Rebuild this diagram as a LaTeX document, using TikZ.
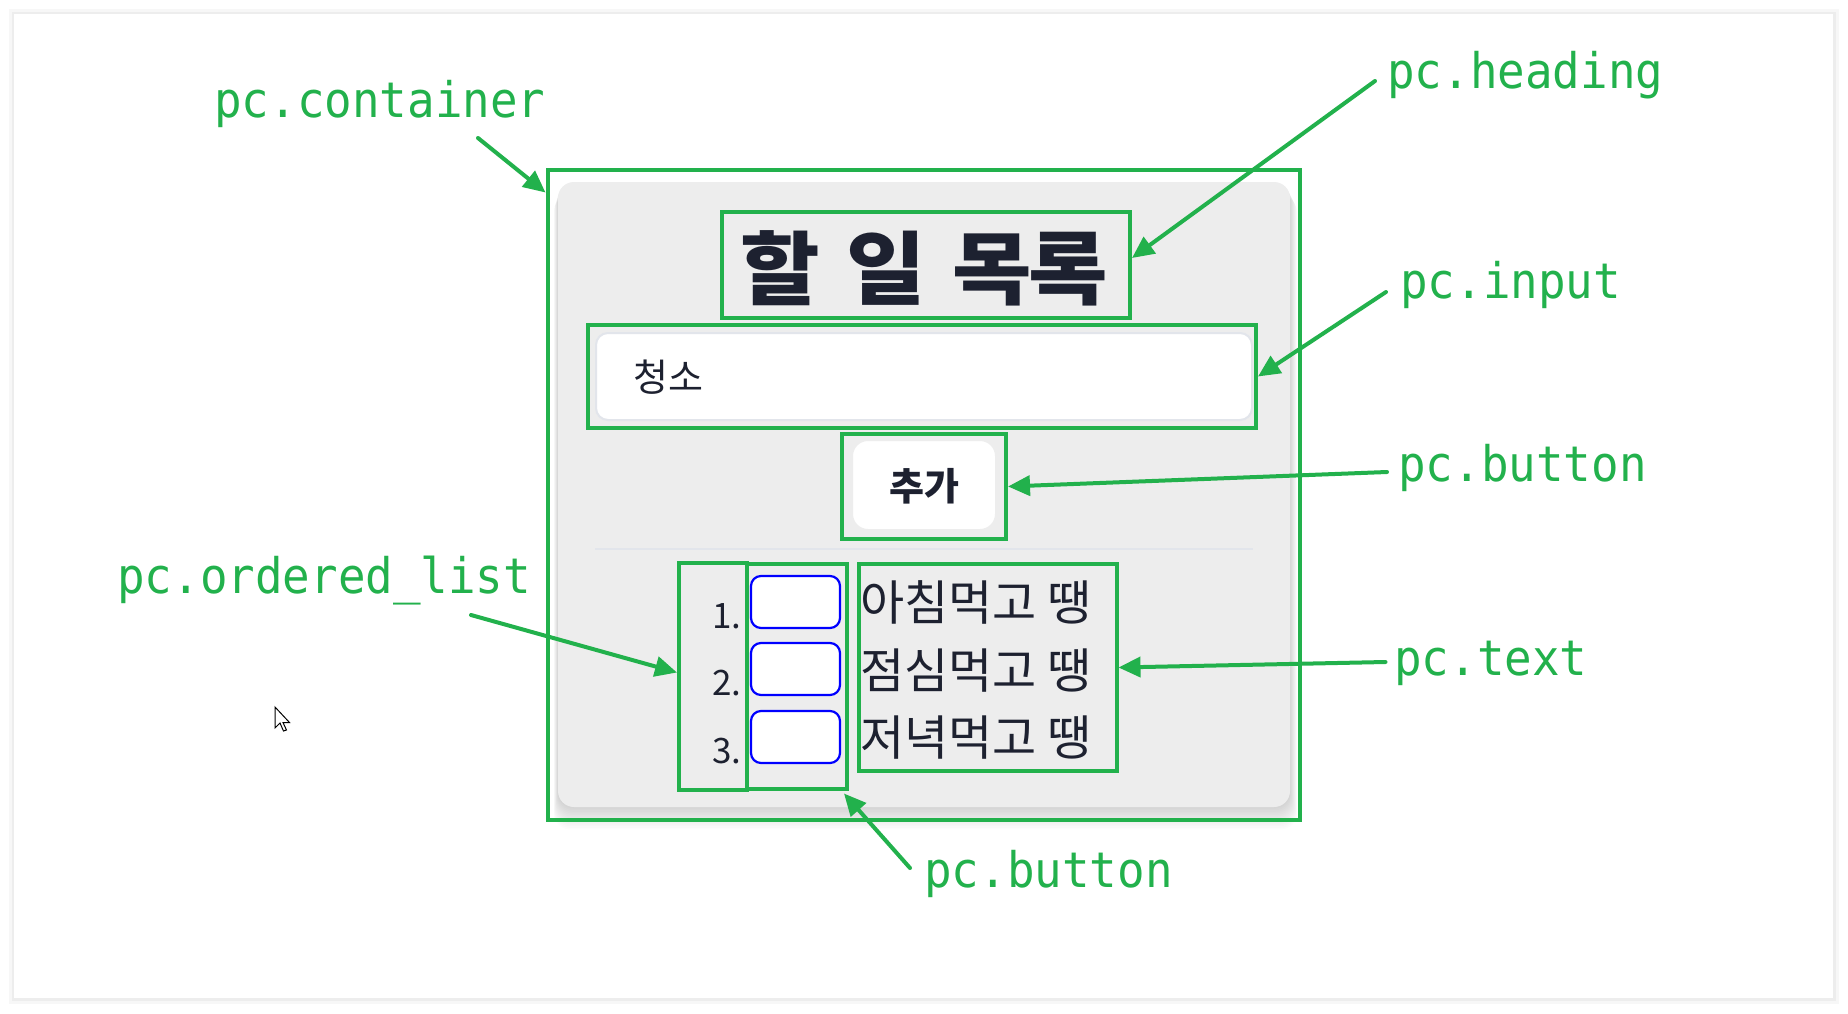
\documentclass[tikz,border=0pt]{standalone}
\usepackage{fontspec}
\usetikzlibrary{arrows.meta,fit,calc}
\newfontfamily\kr{Noto Sans CJK KR}
\newfontfamily\krhead[FakeStretch=1.08,LetterSpace=-5,WordSpace=1.7]{Noto Sans CJK KR}
\newfontfamily\monof[FakeStretch=0.935]{DejaVu Sans Mono}
\definecolor{pcgreen}{RGB}{34,177,76}
\definecolor{panelgray}{RGB}{237,237,237}
\definecolor{hdcol}{RGB}{29,33,48}
\definecolor{lightborder}{RGB}{226,229,235}
\definecolor{cbblue}{RGB}{0,0,255}
\tikzset{
  gbox/.style={draw=pcgreen, line width=2pt, inner sep=0pt},
  arr/.style={draw=pcgreen, line width=2pt, line cap=round, -{Triangle[length=11pt,width=10pt]}},
  lbl/.style={text=pcgreen, font=\monof\fontsize{24.5}{28}\selectfont, inner sep=0pt, anchor=base west},
  cbox/.style={draw=cbblue, line width=1.1pt, fill=white, rounded corners=5pt},
  ktext/.style={text=hdcol, inner sep=0pt},
}
\begin{document}
\begin{tikzpicture}[x=0.5pt,y=-0.5pt]
\useasboundingbox (0,0) rectangle (1848,1013);
\fill[white] (0,0) rectangle (1848,1013);
% card with faint shadow
\fill[black!3] (9,9) rectangle (1839,1004);
\fill[black!7] (12,12) rectangle (1836,1001);
\fill[white] (14,14) rectangle (1833,998);
% panel shadow
\foreach \i in {1,...,14}{
  \fill[black, opacity=0.013, rounded corners=8pt] (558-0.3*\i,182+\i) rectangle (1290+0.5*\i,807+1.6*\i);
}
% panel
\fill[panelgray, rounded corners=8pt] (558,182) rectangle (1290,807);
% input field
\draw[lightborder, line width=1pt, fill=white, rounded corners=6pt] (596,333) rectangle (1252,420);
% add button
\draw[black!7, line width=1pt, fill=white, rounded corners=8pt] (852,440) rectangle (996,530);
% separator
\draw[lightborder, line width=1pt] (595,548.5) -- (1253,548.5);
% checkboxes
\draw[cbox] (751,576) rectangle (840,628);
\draw[cbox] (751,643) rectangle (840,695);
\draw[cbox] (751,711) rectangle (840,763);
% texts
\node[ktext, font=\krhead\bfseries\fontsize{40}{44}\selectfont] (hdt) at (924,268.5) {할 일 목록};
\node[ktext, font=\kr\fontsize{19}{22}\selectfont, anchor=west] (inpt) at (633,377.5) {청소};
\node[ktext, font=\kr\bfseries\fontsize{19}{22}\selectfont] (btnt) at (924,486.5) {추가};
\node[ktext, font=\kr\fontsize{17.5}{20}\selectfont, anchor=base east] (n1) at (742,628) {1.};
\node[ktext, font=\kr\fontsize{17.5}{20}\selectfont, anchor=base east] (n2) at (742,695) {2.};
\node[ktext, font=\kr\fontsize{17.5}{20}\selectfont, anchor=base east] (n3) at (742,763) {3.};
\node[ktext, font=\kr\fontsize{24}{27}\selectfont, anchor=west] (t1) at (860,602.5) {아침먹고 땡};
\node[ktext, font=\kr\fontsize{24}{27}\selectfont, anchor=west] (t2) at (860,671) {점심먹고 땡};
\node[ktext, font=\kr\fontsize{24}{27}\selectfont, anchor=west] (t3) at (860,738) {저녁먹고 땡};
% green boxes
\node[gbox, fit={(547.5,169.5) (1300,820)}] (ctr) {};
\node[gbox, fit={(721.5,212) (1130,318)}] (hd) {};
\node[gbox, fit={(588,325) (1256,428)}] (inp) {};
\node[gbox, fit={(842,434) (1006,539)}] (btn) {};
\node[gbox, fit={(679,563) (746.5,790)}] (ol) {};
\node[gbox, fit={(746.5,564) (847,788.5)}] (bc) {};
\node[gbox, fit={(859,564) (1116.5,771)}] (txt) {};
% labels
\node[lbl] (lctr) at (214,117) {pc.container};
\node[lbl] (lhd) at (1387,88) {pc.heading};
\node[lbl] (linp) at (1400,298) {pc.input};
\node[lbl] (lbtn) at (1398,481) {pc.button};
\node[lbl] (ltxt) at (1394,675) {pc.text};
\node[lbl] (lol) at (117,593) {pc.ordered\_list};
\node[lbl] (lbc) at (924,887) {pc.button};
% arrow start points
\coordinate (sctr) at (478,138);
\coordinate (shd) at (1375,81);
\coordinate (sinp) at (1386,292);
\coordinate (sbtn) at (1387,472);
\coordinate (stxt) at (1385.5,662);
\coordinate (sol) at (471,615);
\coordinate (sbc) at (910,868);
% arrows
\draw[arr] (sctr) -- ($(ctr.north west)+(0,25)$);
\draw[arr] (shd) -- ($(hd.east)+(0,-7)$);
\draw[arr] (sinp) -- (inp.east);
\draw[arr] (sbtn) -- (btn.east);
\draw[arr] (stxt) -- (txt.east);
\draw[arr] (sol) -- ($(ol.west)+(0,-4)$);
\draw[arr] (sbc) -- ($(bc.south east)+(-5,3)$);
% mouse cursor
\draw[black, line width=0.5pt, fill=white, line join=miter]
  (275,707) -- ++(0,21) -- ++(5,-5) -- ++(3.5,8) -- ++(3,-1) -- ++(-3.5,-7.5) -- ++(6.5,0) -- cycle;
\end{tikzpicture}
\end{document}
